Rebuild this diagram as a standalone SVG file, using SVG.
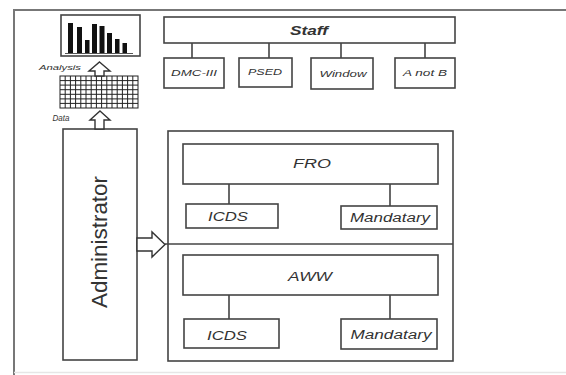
<svg xmlns="http://www.w3.org/2000/svg" width="566" height="375" viewBox="0 0 566 375">
<style>
.box{fill:#fff;stroke:#444;stroke-width:1.6}
.ln{stroke:#444;stroke-width:1.6;fill:none}
.t{font-family:"Liberation Sans",Arial,sans-serif;font-style:italic;fill:#333;text-anchor:middle;dominant-baseline:central}
.arr{fill:#fff;stroke:#333;stroke-width:1.4;stroke-linejoin:miter}
.grid{stroke:#222;stroke-width:1;fill:none}
</style>
<rect x="0" y="0" width="566" height="375" fill="#fff"/>
<g id="frame">
<path d="M14,375 V10 H566" fill="none" stroke="#777" stroke-width="2"/>
<path d="M14,372.5 H566" fill="none" stroke="#e6e6e6" stroke-width="1.5"/>
</g>
<g id="chart">
<rect x="61" y="15" width="79" height="41" class="box"/>
<g fill="#111">
<rect x="68" y="23" width="5" height="30"/>
<rect x="77" y="27" width="5" height="26"/>
<rect x="85" y="40" width="4.5" height="13"/>
<rect x="92" y="24" width="5" height="29"/>
<rect x="99.5" y="26" width="5" height="27"/>
<rect x="107" y="33" width="5" height="20"/>
<rect x="115" y="39" width="4.5" height="14"/>
<rect x="122.5" y="43" width="4.5" height="10"/>
</g>
<path d="M65,53.5 H133" stroke="#555" stroke-width="1"/>
</g>
<g id="grid">
<rect x="60" y="76" width="78" height="32" class="grid"/>
<path class="grid" d="M65.2,76V108M70.4,76V108M75.6,76V108M80.8,76V108M86,76V108M91.2,76V108M96.4,76V108M101.6,76V108M106.8,76V108M112,76V108M117.2,76V108M122.4,76V108M127.6,76V108M132.8,76V108M60,80.6H138M60,85.1H138M60,89.7H138M60,94.3H138M60,98.9H138M60,103.4H138"/>
</g>
<g id="analysis-label"><text x="60" y="67" class="t" font-size="8" fill="#555" textLength="42" lengthAdjust="spacingAndGlyphs">Analysis</text></g>
<g id="data-label"><text x="61" y="118" class="t" font-size="8.5" textLength="17" lengthAdjust="spacingAndGlyphs">Data</text></g>
<g id="administrator">
<rect x="63" y="129" width="74" height="231" class="box"/>
<text class="t" font-size="22" transform="translate(99,242) rotate(-90)" textLength="132" lengthAdjust="spacingAndGlyphs" style="font-style:normal">Administrator</text>
</g>
<g id="staff">
<rect x="164" y="17" width="291" height="26" class="box"/>
<text x="309" y="31" class="t" font-size="12" font-weight="bold" textLength="38" lengthAdjust="spacingAndGlyphs">Staff</text>
</g>
<g id="dmc">
<rect x="164" y="58" width="60" height="30" class="box"/>
<text x="194" y="72" class="t" font-size="9.5" textLength="46" lengthAdjust="spacingAndGlyphs">DMC-III</text>
</g>
<g id="psed">
<rect x="239" y="58" width="53" height="29" class="box"/>
<text x="265" y="71" class="t" font-size="9.5" textLength="34" lengthAdjust="spacingAndGlyphs">PSED</text>
</g>
<g id="window">
<rect x="311" y="58" width="62" height="31" class="box"/>
<text x="343" y="73" class="t" font-size="9.5" textLength="47" lengthAdjust="spacingAndGlyphs">Window</text>
</g>
<g id="anotb">
<rect x="395" y="58" width="60" height="30" class="box"/>
<text x="425" y="72" class="t" font-size="9.5" textLength="44" lengthAdjust="spacingAndGlyphs">A not B</text>
</g>
<g id="container">
<rect x="168" y="131" width="285" height="230" class="box"/>
</g>
<g id="fro">
<rect x="183" y="144" width="255" height="40" class="box"/>
<text x="312" y="163" class="t" font-size="13" textLength="38" lengthAdjust="spacingAndGlyphs">FRO</text>
</g>
<g id="fro-icds">
<rect x="186" y="204" width="92" height="24" class="box"/>
<text x="228" y="216.5" class="t" font-size="13" textLength="40" lengthAdjust="spacingAndGlyphs">ICDS</text>
</g>
<g id="fro-mandatary">
<rect x="341" y="206" width="96" height="23" class="box"/>
<text x="390" y="217.5" class="t" font-size="12.5" textLength="80" lengthAdjust="spacingAndGlyphs">Mandatary</text>
</g>
<g id="aww">
<rect x="183" y="255" width="255" height="40" class="box"/>
<text x="310" y="276" class="t" font-size="13" textLength="44" lengthAdjust="spacingAndGlyphs">AWW</text>
</g>
<g id="aww-icds">
<rect x="184" y="319" width="95" height="29" class="box"/>
<text x="227" y="335" class="t" font-size="13" textLength="40" lengthAdjust="spacingAndGlyphs">ICDS</text>
</g>
<g id="aww-mandatary">
<rect x="341" y="319" width="96" height="30" class="box"/>
<text x="391" y="334.5" class="t" font-size="12.5" textLength="81" lengthAdjust="spacingAndGlyphs">Mandatary</text>
</g>
<g id="connectors">
<path class="ln" d="M192,43V58M269,43V58M341,43V58M425,43V58"/>
<path class="ln" d="M229,184V204M390,184V206"/>
<path class="ln" d="M229,295V319M390,295V319"/>
<path class="ln" d="M165,244H453"/>
<polygon class="arr" points="99.5,62 110,71 104,71 104,76 95,76 95,71 89,71"/>
<polygon class="arr" points="100,111 110,120 104,120 104,129 95,129 95,120 90,120"/>
<polygon class="arr" points="137,238 152,238 152,232 165,244.5 152,257 152,251 137,251"/>
</g>
</svg>
